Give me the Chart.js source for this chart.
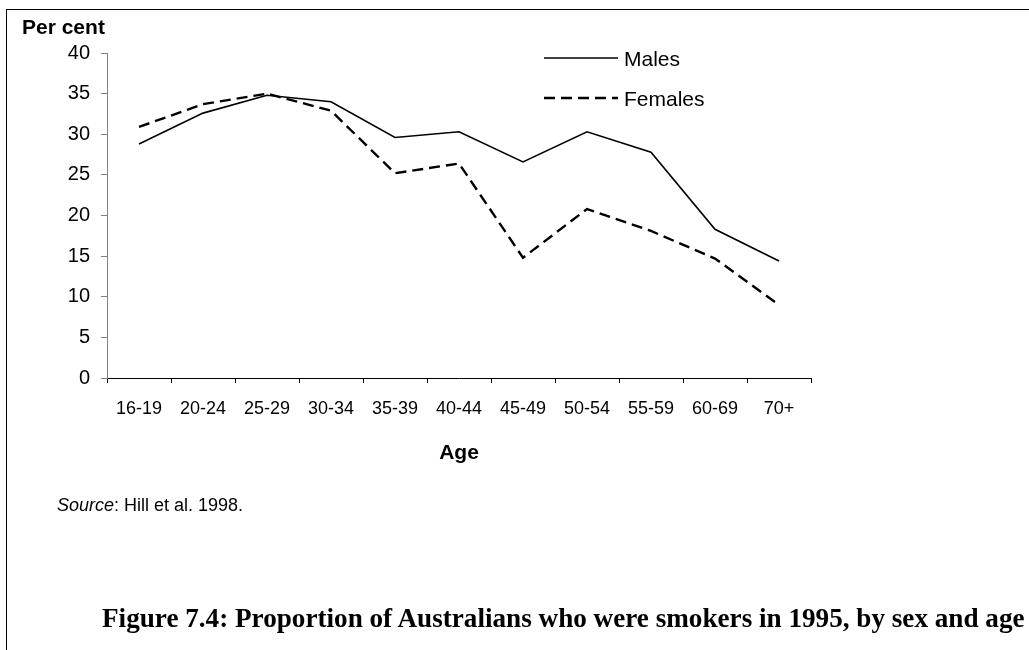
<!DOCTYPE html>
<html>
<head>
<meta charset="utf-8">
<script src="https://cdn.jsdelivr.net/npm/chart.js@4.4.1/dist/chart.umd.min.js"></script>
<style>
  html, body { margin: 0; padding: 0; background: #fff; }
  #wrap { position: relative; width: 1029px; height: 650px; overflow: hidden; background: #fff; }
  #c { position: absolute; left: 0; top: 0; }
  #frame { position: absolute; left: 6px; top: 9px; width: 1023px; height: 641px;
           border-top: 1px solid #000; border-left: 1px solid #000; box-sizing: border-box; }
  #source { position: absolute; left: 57px; top: 494px; font: 18px "Liberation Sans", Arial, sans-serif;
            line-height: 22px; color: #000; white-space: nowrap; }
  #title { position: absolute; left: 102px; top: 602px; font-family: "Liberation Serif", "Times New Roman", serif; font-weight: bold;
           font-size: 22px; line-height: 32px; color: #000; white-space: nowrap; }
</style>
</head>
<body>
<div id="wrap">
  <div id="frame"></div>
  <canvas id="c" width="1029" height="650"></canvas>
  <div id="source"><i>Source</i>: Hill et al. 1998.</div>
  <div id="title">Figure 7.4: Proportion of Australians who were smokers in 1995, by sex and age</div>
</div>
<script>
// ---- Data ----
const categories = ['16-19', '20-24', '25-29', '30-34', '35-39', '40-44', '45-49', '50-54', '55-59', '60-69', '70+'];
const males      = [28.8, 32.6, 34.8, 34.0, 29.6, 30.3, 26.6, 30.3, 27.8, 18.3, 14.4];
const females    = [30.9, 33.7, 35.0, 32.9, 25.2, 26.4, 14.8, 20.8, 18.1, 14.7, 9.0];
const seriesNames = ['Males', 'Females'];
const yMin = 0;
const yMax = 40;
const yStep = 5;
const yTitle = 'Per cent';
const xTitle = 'Age';

// fit title width to the reference span
(function () {
  const t = document.getElementById('title');
  const target = 923;
  const w = t.getBoundingClientRect().width;
  t.style.fontSize = (22 * target / w).toFixed(2) + 'px';
})();

const FONT = '"Liberation Sans", Arial, sans-serif';

const overlay = {
  id: 'overlay',
  afterDraw(chart) {
    const ctx = chart.ctx;
    const { left, right } = chart.chartArea;
    ctx.save();
    ctx.fillStyle = '#000';
    ctx.textBaseline = 'middle';
    ctx.font = 'bold 21px ' + FONT;
    ctx.textAlign = 'left';
    ctx.fillText(yTitle, 22, 28);
    ctx.textAlign = 'center';
    ctx.fillText(xTitle, (left + right) / 2, 453);
    chart.data.datasets.forEach((ds, i) => {
      const y = 58 + i * 40;
      ctx.beginPath();
      ctx.setLineDash(ds.borderDash || []);
      ctx.lineWidth = ds.borderWidth;
      ctx.strokeStyle = ds.borderColor;
      ctx.moveTo(544, y);
      ctx.lineTo(618, y);
      ctx.stroke();
      ctx.setLineDash([]);
      ctx.textAlign = 'left';
      ctx.font = '21px ' + FONT;
      ctx.fillText(ds.label, 624, y + 2);
    });
    ctx.restore();
  }
};

new Chart(document.getElementById('c'), {
  type: 'line',
  data: {
    labels: categories,
    datasets: [
      { label: seriesNames[0], data: males, borderColor: '#000', borderWidth: 1.6,
        pointRadius: 0, tension: 0, fill: false },
      { label: seriesNames[1], data: females, borderColor: '#000', borderWidth: 2.4,
        borderDash: [11, 6], pointRadius: 0, tension: 0, fill: false }
    ]
  },
  options: {
    responsive: false,
    animation: false,
    devicePixelRatio: 1,
    layout: { padding: { left: 0, top: 53, right: 218, bottom: 0 } },
    plugins: { legend: { display: false }, tooltip: { enabled: false }, title: { display: false } },
    scales: {
      x: {
        type: 'category',
        offset: true,
        grid: { offset: true, drawOnChartArea: false, drawTicks: true, tickLength: 5, color: '#000' },
        border: { color: '#000', width: 1 },
        ticks: { color: '#000', font: { size: 18, family: FONT }, padding: 15, maxRotation: 0, autoSkip: false },
        afterFit(s) { s.height = 272; }
      },
      y: {
        min: yMin,
        max: yMax,
        grid: { drawOnChartArea: false, drawTicks: true, tickLength: 6, color: '#808080' },
        border: { color: '#808080', width: 1 },
        ticks: { stepSize: yStep, color: '#000', font: { size: 20, family: FONT }, padding: 11 },
        afterFit(s) { s.width = 107; }
      }
    }
  },
  plugins: [overlay]
});
</script>
</body>
</html>
